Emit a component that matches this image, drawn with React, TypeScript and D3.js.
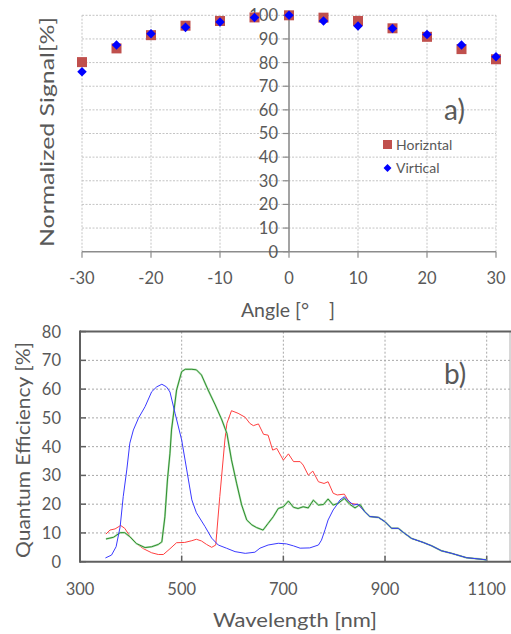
import React from "react";
import * as d3 from "d3";

// ---------- Top chart data (a) ----------
const angles = [-30, -25, -20, -15, -10, -5, 0, 5, 10, 15, 20, 25, 30];
const horizontal = [80.2, 86.0, 91.6, 95.6, 97.6, 99.1, 100, 99.0, 97.6, 94.5, 90.9, 85.7, 81.4];
const vertical = [76.1, 87.4, 92.2, 94.9, 97.2, 99.1, 100, 97.6, 95.5, 94.4, 91.9, 87.4, 82.5];
const angleTicks = [-30, -20, -10, 0, 10, 20, 30];
const signalTicks = [0, 10, 20, 30, 40, 50, 60, 70, 80, 90, 100];

// ---------- Bottom chart data (b) ----------
const wlRed = [351, 359, 369, 380, 388, 398, 411, 425, 441, 454, 464, 477, 490, 506, 520, 529, 539, 549, 559, 567, 575, 585, 589, 598, 611, 625, 634, 641, 651, 661, 670, 679, 687, 700, 710, 720, 733, 739, 749, 758, 769, 780, 788, 798, 806, 820, 831, 847, 860, 870, 887, 900, 913, 926, 936, 952, 975, 992, 1011, 1031, 1060, 1087, 1100];
const qeRed = [9.6, 11.0, 11.4, 12.6, 11.6, 8.9, 6.3, 4.5, 3.1, 2.5, 2.5, 4.5, 6.6, 6.7, 7.3, 7.8, 7.2, 6.0, 5.0, 5.8, 22.7, 42.3, 48.1, 52.5, 51.6, 50.2, 48.1, 47.3, 47.9, 44.3, 44.0, 38.8, 39.4, 35.3, 37.5, 34.8, 34.8, 33.6, 30.1, 31.5, 27.8, 27.2, 27.8, 23.8, 23.2, 23.5, 20.3, 19.9, 17.4, 15.7, 15.4, 13.9, 11.6, 11.6, 10.2, 8.1, 6.7, 5.5, 3.8, 2.9, 1.4, 0.9, 0.6];

const wlGreen = [351, 366, 379, 388, 398, 411, 428, 441, 454, 461, 467, 472, 477, 480, 490, 500, 507, 520, 529, 539, 552, 566, 579, 589, 598, 608, 618, 628, 638, 647, 660, 670, 680, 690, 700, 710, 720, 729, 739, 749, 759, 769, 779, 788, 798, 808, 820, 831, 841, 851, 860, 870, 887, 900, 913, 926, 936, 952, 975, 992, 1011, 1031, 1060, 1087, 1100];
const qeGreen = [7.9, 8.5, 10.1, 10.1, 8.7, 6.3, 4.9, 5.2, 6.0, 6.9, 15.6, 28.4, 37.7, 45.8, 59.7, 66.1, 66.9, 66.9, 66.7, 64.9, 59.7, 54.5, 49.3, 44.6, 35.4, 27.3, 19.7, 14.5, 12.8, 11.9, 11.0, 13.3, 15.6, 18.5, 19.1, 21.1, 18.9, 18.5, 19.1, 18.7, 21.4, 19.7, 19.9, 21.8, 19.7, 20.3, 22.0, 19.9, 18.7, 19.9, 17.4, 15.7, 15.4, 13.9, 11.6, 11.6, 10.2, 8.1, 6.7, 5.5, 3.8, 2.9, 1.4, 0.9, 0.6];

const wlBlue = [350, 362, 371, 379, 385, 392, 398, 405, 415, 428, 441, 451, 461, 470, 477, 487, 500, 510, 520, 529, 546, 559, 572, 588, 605, 625, 644, 654, 670, 690, 706, 720, 733, 752, 769, 775, 782, 788, 798, 805, 811, 820, 824, 838, 847, 860, 870, 887, 900, 913, 926, 936, 952, 975, 992, 1011, 1031, 1060, 1087, 1100];
const qeBlue = [1.3, 2.3, 5.2, 12.2, 22.6, 31.9, 41.2, 45.8, 49.9, 53.9, 59.1, 60.8, 61.7, 60.8, 59.0, 51.6, 42.3, 31.9, 21.5, 17.0, 12.2, 8.2, 5.8, 4.7, 3.5, 2.9, 3.3, 4.7, 5.8, 6.4, 6.2, 5.5, 4.7, 4.8, 5.8, 7.5, 11.1, 14.5, 18.0, 19.7, 21.4, 22.6, 21.8, 19.7, 20.0, 17.4, 15.7, 15.4, 13.9, 11.6, 11.6, 10.2, 8.1, 6.7, 5.5, 3.8, 2.9, 1.4, 0.9, 0.6];

const wlTicks = [300, 500, 700, 900, 1100];
const qeTicks = [0, 10, 20, 30, 40, 50, 60, 70, 80];

const FONT = "Lato, 'Open Sans', sans-serif";
const TXT = "#595959";

export default function App() {
  // scales for (a)
  const xa = d3.scaleLinear().domain([-30, 30]).range([82, 496]);
  const ya = d3.scaleLinear().domain([0, 100]).range([251.7, 15.3]);
  // scales for (b)
  const xb = d3.scaleLinear().domain([300, 1100]).range([80, 486.7]);
  const yb = d3.scaleLinear().domain([0, 80]).range([561.7, 331.6]);

  const line = (wl: number[], qe: number[]) =>
    d3
      .line<number>()
      .x((_, i) => xb(wl[i]))
      .y((v) => yb(v))
      .curve(d3.curveLinear)(qe) || "";

  const diamond = d3.symbol().type(d3.symbolDiamond2).size(58)() || "";

  return (
    <svg
      width={511}
      height={634}
      style={{ position: "absolute", left: 0, top: 0, background: "#fff" }}
      fontFamily={FONT}
    >
      <rect width={511} height={634} fill="#fff" />
      {/* ================= Chart a ================= */}
      <g>
        {signalTicks
          .filter((t) => t > 0)
          .map((t) => (
            <line key={"ha" + t} x1={xa(-30)} x2={xa(30)} y1={ya(t)} y2={ya(t)} stroke="#c4c4c4" strokeDasharray="2,1.5" strokeWidth={1} />
          ))}
        {angleTicks
          .filter((t) => t !== 0)
          .map((t) => (
            <line key={"va" + t} x1={xa(t)} x2={xa(t)} y1={ya(0)} y2={ya(100)} stroke="#c4c4c4" strokeDasharray="2,1.5" strokeWidth={1} />
          ))}
        {/* y axis at x=0 */}
        <line x1={xa(0)} x2={xa(0)} y1={ya(0)} y2={ya(100)} stroke="#8c8c8c" strokeWidth={1.6} />
        {signalTicks.map((t) => (
          <line key={"yt" + t} x1={xa(0) - 6} x2={xa(0)} y1={ya(t)} y2={ya(t)} stroke="#8c8c8c" strokeWidth={1.2} />
        ))}
        {/* x axis */}
        <line x1={xa(-30)} x2={xa(30)} y1={ya(0)} y2={ya(0)} stroke="#8c8c8c" strokeWidth={1.6} />
        {angleTicks.map((t) => (
          <line key={"xt" + t} x1={xa(t)} x2={xa(t)} y1={ya(0)} y2={ya(0) + 6} stroke="#8c8c8c" strokeWidth={1.2} />
        ))}
        {signalTicks.map((t) => (
          <text key={"yl" + t} x={xa(0) - 11} y={ya(t)} dy="0.36em" textAnchor="end" fontSize={16.5} fill={TXT}>
            {t}
          </text>
        ))}
        {angleTicks.map((t) => (
          <text key={"xl" + t} x={xa(t)} y={278} dy="0.36em" textAnchor="middle" fontSize={16.5} fill={TXT}>
            {t}
          </text>
        ))}
        <text x={288} y={310} dy="0.36em" textAnchor="middle" fontSize={19.5} fill={TXT}>
          Angle [°　]
        </text>
        <text
          transform={`translate(47,132) rotate(-90)`}
          textAnchor="middle"
          dy="0.36em"
          fontSize={19.5}
          fill={TXT}
          textLength={230}
          lengthAdjust="spacingAndGlyphs"
        >
          Normalized Signal[%]
        </text>
        {/* markers */}
        {angles.map((a, i) => (
          <rect key={"h" + a} x={xa(a) - 5} y={ya(horizontal[i]) - 5} width={10} height={10} fill="#C0504D" />
        ))}
        {angles.map((a, i) => (
          <path key={"v" + a} d={diamond} transform={`translate(${xa(a)},${ya(vertical[i])})`} fill="#0000FF" />
        ))}
        {/* legend */}
        <rect x={383} y={140} width={9} height={9} fill="#C0504D" />
        <text x={396} y={144.5} dy="0.36em" fontSize={14} fill={TXT}>
          Horizntal
        </text>
        <path d={d3.symbol().type(d3.symbolDiamond2).size(40)() || ""} transform="translate(387.5,168)" fill="#0000FF" />
        <text x={396} y={168} dy="0.36em" fontSize={14} fill={TXT}>
          Virtical
        </text>
        <text x={444} y={120} fontSize={28} fill={TXT}>
          a)
        </text>
      </g>

      {/* ================= Chart b ================= */}
      <g>
        {qeTicks
          .filter((t) => t > 0 && t < 80)
          .map((t) => (
            <line key={"hb" + t} x1={xb(300)} x2={510} y1={yb(t)} y2={yb(t)} stroke="#a8a8a8" strokeDasharray="2,2" strokeWidth={1} />
          ))}
        {wlTicks
          .filter((t) => t > 300)
          .map((t) => (
            <line key={"vb" + t} x1={xb(t)} x2={xb(t)} y1={yb(0)} y2={yb(80)} stroke="#a8a8a8" strokeDasharray="2,2" strokeWidth={1} />
          ))}
        {/* right edge */}
        <line x1={510} x2={510} y1={yb(0)} y2={yb(80)} stroke="#b0b0b0" strokeWidth={1} />
        {/* frame */}
        <line x1={xb(300)} x2={511} y1={yb(80)} y2={yb(80)} stroke="#606060" strokeWidth={2} />
        <line x1={xb(300)} x2={511} y1={yb(0)} y2={yb(0)} stroke="#606060" strokeWidth={2} />
        <line x1={xb(300)} x2={xb(300)} y1={yb(80) - 1} y2={yb(0) + 1} stroke="#606060" strokeWidth={2} />
        {qeTicks.map((t) => (
          <line key={"ybt" + t} x1={xb(300)} x2={xb(300) + 6} y1={yb(t)} y2={yb(t)} stroke="#606060" strokeWidth={1.5} />
        ))}
        {wlTicks.map((t) => (
          <line key={"xbt" + t} x1={xb(t)} x2={xb(t)} y1={yb(0)} y2={yb(0) - 6} stroke="#606060" strokeWidth={1.5} />
        ))}
        {qeTicks.map((t) => (
          <text key={"ybl" + t} x={61} y={yb(t)} dy="0.36em" textAnchor="end" fontSize={16.5} fill={TXT}>
            {t}
          </text>
        ))}
        {wlTicks.map((t) => (
          <text key={"xbl" + t} x={xb(t)} y={589} dy="0.36em" textAnchor="middle" fontSize={16.5} fill={TXT}>
            {t}
          </text>
        ))}
        <text x={295} y={620} dy="0.36em" textAnchor="middle" fontSize={19.5} fill={TXT} textLength={164} lengthAdjust="spacingAndGlyphs">
          Wavelength [nm]
        </text>
        <text
          transform={`translate(23,450) rotate(-90)`}
          textAnchor="middle"
          dy="0.36em"
          fontSize={19.5}
          fill={TXT}
          textLength={216}
          lengthAdjust="spacingAndGlyphs"
        >
          Quantum Efficiency [%]
        </text>
        <text x={444} y={384} fontSize={28} fill={TXT}>
          b)
        </text>
        {/* curves */}
        <path d={line(wlRed, qeRed)} fill="none" stroke="#ff4040" strokeWidth={1} strokeLinejoin="round" />
        <path d={line(wlGreen, qeGreen)} fill="none" stroke="#b5e0b5" strokeWidth={2} strokeLinejoin="round" />
        <path d={line(wlGreen, qeGreen)} fill="none" stroke="#2f8f2f" strokeWidth={1} strokeLinejoin="round" />
        <path d={line(wlBlue, qeBlue)} fill="none" stroke="#3a3aff" strokeWidth={1} strokeLinejoin="round" />
      </g>
    </svg>
  );
}
